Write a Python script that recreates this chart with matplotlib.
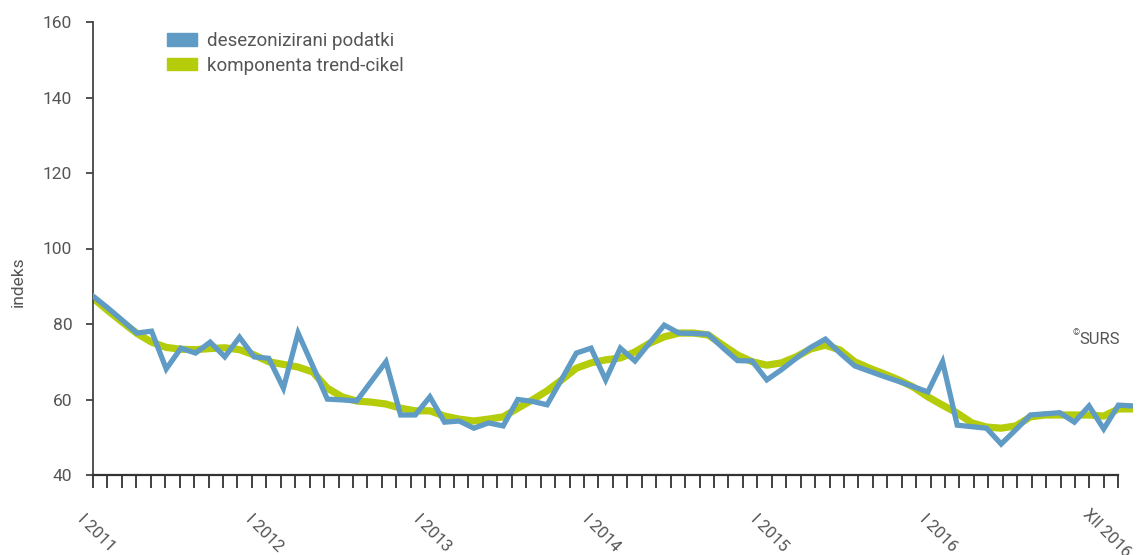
import matplotlib.pyplot as plt
from matplotlib.patches import Patch
import numpy as np

plt.rcParams['font.family'] = ['Roboto', 'DejaVu Sans']

# seasonally adjusted values, I 2011 .. XII 2016
desez = [87.4, 84.3, 81.0, 77.6, 78.1, 68.1, 73.6, 72.3, 75.2, 71.3, 76.5, 71.3,
         70.9, 63.0, 77.6, 68.9, 60.1, 59.9, 59.6, 64.8, 70.0, 55.9, 55.9, 60.7,
         54.0, 54.3, 52.4, 53.8, 53.0, 60.0, 59.5, 58.6, 65.4, 72.3, 73.6, 65.2,
         73.6, 70.2, 75.0, 79.7, 77.6, 77.5, 77.3, 73.7, 70.3, 70.2, 65.2, 67.9,
         70.9, 73.8, 76.0, 72.3, 68.9, 67.5, 66.1, 64.8, 63.4, 62.0, 70.0, 53.2,
         52.8, 52.4, 48.2, 52.0, 55.9, 56.2, 56.5, 54.0, 58.3, 52.2, 58.5, 58.3]

# trend-cycle component
trend = [86.9, 83.6, 80.5, 77.5, 75.2, 73.8, 73.3, 73.2, 73.5, 73.7, 73.2, 71.8,
         70.0, 69.3, 68.6, 67.3, 63.0, 60.7, 59.6, 59.3, 58.8, 57.7, 57.0, 57.0,
         55.6, 54.8, 54.3, 54.8, 55.4, 57.7, 59.9, 62.3, 65.2, 68.3, 69.7, 70.5,
         71.0, 72.6, 74.9, 76.6, 77.6, 77.6, 77.1, 74.4, 71.8, 70.0, 69.1, 69.7,
         71.3, 73.4, 74.4, 73.1, 70.0, 68.3, 66.8, 65.2, 63.3, 60.7, 58.5, 56.4,
         53.8, 52.7, 52.4, 53.0, 55.4, 55.9, 55.9, 55.9, 55.9, 55.6, 57.5, 57.5]

x_labels = ['I 2011', 'I 2012', 'I 2013', 'I 2014', 'I 2015', 'I 2016', 'XII 2016']
y_ticks = [40, 60, 80, 100, 120, 140, 160]

blue = '#5f9bc5'
green = '#b4cc0a'
grey = '#555555'

fig = plt.figure(figsize=(11.46, 5.55), dpi=100)
ax = fig.add_axes([93/1146, 1 - 475/555, 1040/1146, 453/555])

months = np.arange(len(desez))
ax.plot(months, trend, color=green, lw=5.2, solid_capstyle='butt', zorder=2)
ax.plot(months, desez, color=blue, lw=3.8, solid_joinstyle='miter', zorder=3)

ax.set_xlim(0, 71)
ax.set_ylim(40, 160)
for s in ['top', 'right']:
    ax.spines[s].set_visible(False)
ax.spines['left'].set_color('#444444')
ax.spines['bottom'].set_color('#333333')
ax.spines['left'].set_linewidth(1.3)
ax.spines['bottom'].set_linewidth(1.6)
ax.spines['bottom'].set_bounds(0, 70)

ax.set_yticks(y_ticks)
ax.tick_params(axis='y', length=5, width=1.3, color='#444444', labelsize=12.5,
               labelcolor=grey, pad=10)
ax.set_xticks(np.linspace(0, 70, 72))
ax.set_xticklabels([])
ax.tick_params(axis='x', length=9, width=1.3, color='#333333')

for pos, lab in zip(np.linspace(0.2, 69.2, len(x_labels)), x_labels):
    ax.annotate(lab, xy=(pos, 0), xycoords=('data', 'axes fraction'),
                xytext=(0, -42), textcoords='offset points', rotation=-45,
                ha='center', va='center', fontsize=12, color=grey)

fig.text(18/1146, 1 - 282/555, 'indeks', rotation=90, ha='center', va='center',
         fontsize=12.5, color=grey)

ax.annotate('SURS', xy=(1120/1146, 1 - 339/555), xycoords='figure fraction',
            ha='right', va='center', fontsize=12, color=grey)
ax.annotate('©', xy=(1080/1146, 1 - 333/555), xycoords='figure fraction',
            ha='right', va='center', fontsize=6.5, color=grey)

handles = [Patch(color=blue), Patch(color=green)]
fig.legend(handles, ['desezonizirani podatki', 'komponenta trend-cikel'],
           loc='upper left', bbox_to_anchor=(167/1146, 1 - 32/555), frameon=False,
           fontsize=13.5, labelcolor=grey, handlelength=1.6, handleheight=0.65,
           handletextpad=0.55, labelspacing=0.36, borderpad=0, borderaxespad=0)

fig.savefig('out.png', dpi=100)
